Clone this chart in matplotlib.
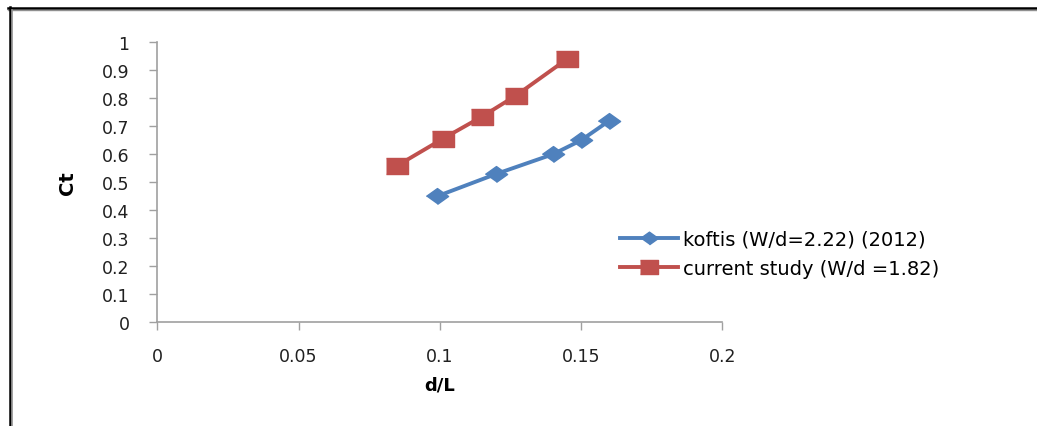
import matplotlib
matplotlib.use("Agg")
import matplotlib.pyplot as plt
from matplotlib.lines import Line2D

# data
koftis_x = [0.099, 0.12, 0.14, 0.15, 0.16]
koftis_ct = [0.45, 0.53, 0.60, 0.65, 0.72]
study_x = [0.085, 0.101, 0.115, 0.127, 0.145]
study_ct = [0.56, 0.655, 0.735, 0.81, 0.94]

xticks = [0, 0.05, 0.1, 0.15, 0.2]
xticklabels = ["0", "0.05", "0.1", "0.15", "0.2"]
yticks = [0, 0.1, 0.2, 0.3, 0.4, 0.5, 0.6, 0.7, 0.8, 0.9, 1]
yticklabels = ["0", "0.1", "0.2", "0.3", "0.4", "0.5", "0.6", "0.7", "0.8", "0.9", "1"]

plt.rcParams['font.family'] = ['DejaVu Sans']

fig = plt.figure(figsize=(10.37, 4.27), dpi=100)
ax = fig.add_axes([0.1517, 0.2428, 0.5448, 0.6558])

# stretched markers (the original picture is a bit wider than tall)
diamond = [(-1.4, 0), (0, 1), (1.4, 0), (0, -1)]
square = [(-1.4, -1), (1.4, -1), (1.4, 1), (-1.4, 1)]

ax.plot(koftis_x, koftis_ct, color='#4F81BD', lw=2.8, marker=diamond, ms=16,
        label='koftis (W/d=2.22) (2012)')
ax.plot(study_x, study_ct, color='#C0504D', lw=2.8, marker=square, ms=16.5,
        label='current study (W/d =1.82)')

ax.set_xlim(0, 0.2)
ax.set_ylim(0, 1)
ax.set_xticks(xticks)
ax.set_xticklabels(xticklabels)
ax.set_yticks(yticks)
ax.set_yticklabels(yticklabels)
ax.tick_params(axis='both', colors='#A0A0A0', labelcolor='#202020', labelsize=12.5,
               length=6, width=1)
ax.tick_params(axis='y', pad=14)
ax.tick_params(axis='x', pad=12)
for s in ['top', 'right']:
    ax.spines[s].set_visible(False)
for s in ['left', 'bottom']:
    ax.spines[s].set_color('#A0A0A0')
    ax.spines[s].set_linewidth(1.2)

ax.set_xlabel('d/L', fontsize=13, fontweight='bold', labelpad=7)
ax.set_ylabel('Ct', fontsize=14, fontweight='bold', labelpad=18)

ax.legend(loc='center left', bbox_to_anchor=(0.598, 0.403), frameon=False,
          fontsize=14, handlelength=3.0, handletextpad=0.25, labelspacing=0.55,
          markerscale=0.8, borderaxespad=0, borderpad=0,
          bbox_transform=fig.transFigure)

# frame lines of the original picture
W, H = 1037, 427
fig.add_artist(Line2D([8 / W, 1], [1 - 9 / H, 1 - 9 / H], color='black', lw=1.8))
fig.add_artist(Line2D([8 / W, 1], [1 - 11 / H, 1 - 11 / H], color='#909090', lw=1))
fig.add_artist(Line2D([9.5 / W, 9.5 / W], [0, 1 - 8 / H], color='black', lw=1.8))
fig.add_artist(Line2D([11.5 / W, 11.5 / W], [0, 1 - 11 / H], color='#909090', lw=1.2))

fig.savefig('out.png', dpi=100)
